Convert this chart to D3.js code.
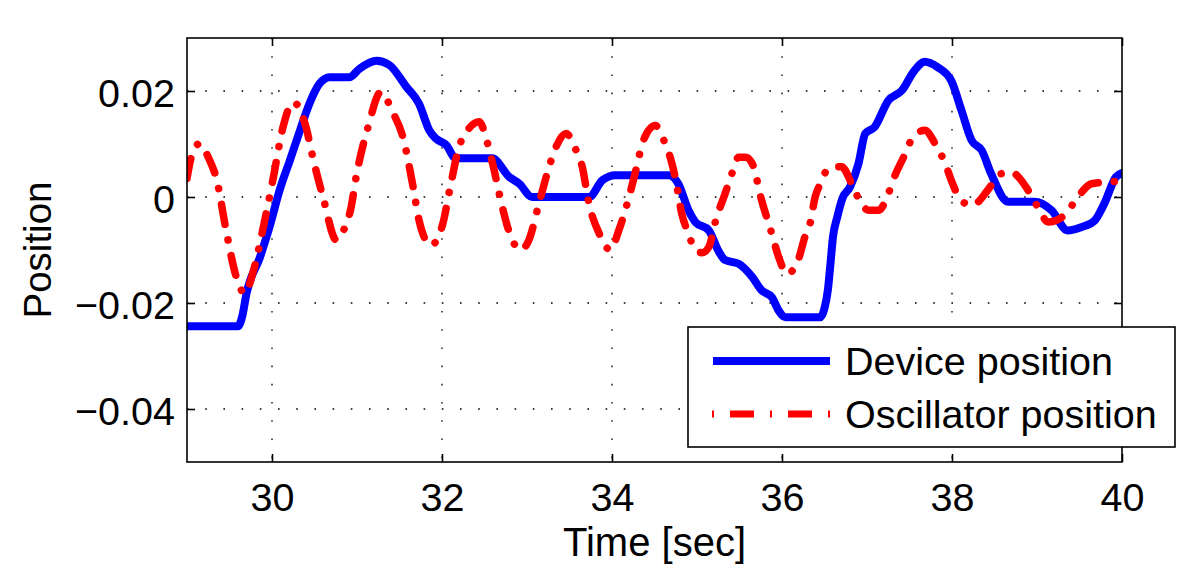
<!DOCTYPE html>
<html>
<head>
<meta charset="utf-8">
<script src="https://cdn.jsdelivr.net/npm/d3@7"></script>
<style>
  html, body { margin: 0; padding: 0; background: #fff; }
  svg { display: block; }
  text { font-family: "Liberation Sans", Arial, Helvetica, sans-serif; fill: #000; }
</style>
</head>
<body>
<svg id="chart" width="1200" height="573"></svg>
<script>
// ---- data ----
const xTicks = [30, 32, 34, 36, 38, 40];
const yTicks = [-0.04, -0.02, 0, 0.02];
const seriesNames = ["Device position", "Oscillator position"];
const xLabel = "Time [sec]";
const yLabel = "Position";

const deviceTime = [29.0, 29.6, 29.65, 29.70, 29.86, 29.97, 30.09, 30.21, 30.33, 30.44, 30.56, 30.68, 30.91, 31.03, 31.23, 31.38, 31.58, 31.73, 31.85, 31.93, 32.05, 32.16, 32.59, 32.79, 32.91, 33.06, 33.73, 33.89, 34.04, 34.67, 34.78, 34.90, 34.98, 35.14, 35.25, 35.33, 35.49, 35.65, 35.76, 35.88, 35.96, 36.04, 36.45, 36.50, 36.54, 36.57, 36.60, 36.65, 36.71, 36.80, 36.90, 36.98, 37.09, 37.25, 37.41, 37.56, 37.68, 37.83, 37.99, 38.11, 38.23, 38.35, 38.46, 38.66, 38.97, 39.17, 39.36, 39.52, 39.68, 39.79, 39.93, 40.0];
const deviceValue = [-0.0244, -0.0244, -0.0225, -0.0182, -0.0113, -0.0057, 0.0013, 0.0069, 0.0126, 0.0176, 0.0214, 0.0226, 0.0226, 0.0242, 0.0257, 0.0249, 0.0208, 0.0176, 0.0126, 0.0110, 0.0098, 0.0073, 0.0073, 0.0038, 0.0025, 0.0, 0.0, 0.0032, 0.0041, 0.0041, 0.0025, -0.0025, -0.0047, -0.0063, -0.0101, -0.0119, -0.0126, -0.0151, -0.0176, -0.0189, -0.0214, -0.0227, -0.0227, -0.0210, -0.0175, -0.0126, -0.0075, -0.0038, -0.0003, 0.0019, 0.0063, 0.0120, 0.0132, 0.0182, 0.0201, 0.0239, 0.0255, 0.0245, 0.0220, 0.0164, 0.0107, 0.0088, 0.0044, -0.0009, -0.0009, -0.0025, -0.0063, -0.0057, -0.0044, -0.0013, 0.0038, 0.0045];

const oscTime = [29.0, 29.05, 29.15, 29.25, 29.35, 29.46, 29.58, 29.68, 29.78, 29.89, 30.01, 30.13, 30.25, 30.40, 30.48, 30.60, 30.76, 30.85, 30.93, 30.99, 31.13, 31.28, 31.42, 31.54, 31.66, 31.73, 31.87, 32.01, 32.09, 32.20, 32.32, 32.44, 32.52, 32.60, 32.71, 32.79, 32.93, 33.02, 33.14, 33.26, 33.34, 33.46, 33.57, 33.65, 33.73, 33.85, 33.98, 34.08, 34.20, 34.28, 34.37, 34.51, 34.61, 34.69, 34.75, 34.82, 34.90, 34.98, 35.06, 35.14, 35.22, 35.33, 35.41, 35.49, 35.57, 35.65, 35.76, 35.88, 35.96, 36.06, 36.19, 36.27, 36.33, 36.39, 36.45, 36.55, 36.70, 36.82, 36.92, 37.02, 37.14, 37.25, 37.33, 37.43, 37.52, 37.68, 37.80, 37.92, 38.00, 38.09, 38.23, 38.31, 38.42, 38.58, 38.70, 38.78, 38.87, 39.01, 39.13, 39.32, 39.48, 39.64, 39.81, 40.0];
const oscValue = [0.0035, 0.0075, 0.0101, 0.0075, 0.0032, -0.0063, -0.0151, -0.0182, -0.0140, -0.0063, 0.0032, 0.0132, 0.0179, 0.0132, 0.0075, 0.0, -0.0082, -0.0060, -0.0020, 0.0038, 0.0132, 0.0198, 0.0160, 0.0113, 0.0019, -0.0044, -0.0091, -0.0050, 0.0013, 0.0094, 0.0130, 0.0142, 0.0110, 0.0060, -0.0019, -0.0066, -0.0100, -0.0082, -0.0013, 0.0057, 0.0094, 0.0120, 0.0091, 0.0057, -0.0013, -0.0069, -0.0100, -0.0063, 0.0, 0.0050, 0.0107, 0.0135, 0.0107, 0.0072, 0.0032, -0.0031, -0.0069, -0.0100, -0.0105, -0.0094, -0.0044, 0.0006, 0.0044, 0.0075, 0.0075, 0.0063, -0.0006, -0.0069, -0.0113, -0.0145, -0.0119, -0.0075, -0.0050, 0.0, 0.0025, 0.0054, 0.0057, 0.0025, -0.0009, -0.0025, -0.0025, 0.0006, 0.0041, 0.0075, 0.0107, 0.0126, 0.0101, 0.0063, 0.0028, -0.0003, -0.0016, -0.0009, 0.0013, 0.0044, 0.0047, 0.0038, 0.0019, -0.0019, -0.0047, -0.0035, 0.0, 0.0025, 0.0028, 0.0030];

// ---- layout ----
const svg = d3.select("#chart");
const L = 187, R = 1122, T = 38, B = 462;
const x = d3.scaleLinear().domain([29, 40]).range([L, R]);
const y = d3.scaleLinear().domain([-0.05, 0.03]).range([B, T]);
const FS = 39.5;

svg.append("rect").attr("width", 1200).attr("height", 573).attr("fill", "#fff");

// grid (dotted)
const grid = svg.append("g").attr("stroke", "#000").attr("stroke-width", 1.3)
  .attr("stroke-dasharray", "1.6,16.6");
grid.selectAll(".gx").data(xTicks.filter(d => d < 40)).enter().append("line")
  .attr("x1", d => x(d)).attr("x2", d => x(d)).attr("y1", T).attr("y2", B);
grid.selectAll(".gy").data(yTicks).enter().append("line")
  .attr("y1", d => y(d)).attr("y2", d => y(d)).attr("x1", L).attr("x2", R);

// clip
svg.append("clipPath").attr("id", "clip").append("rect")
  .attr("x", L).attr("y", T).attr("width", R - L).attr("height", B - T);

const line = d3.line().x(d => x(d[0])).y(d => y(d[1])).curve(d3.curveMonotoneX);
const device = deviceTime.map((t, i) => [t, deviceValue[i]]);
const osc = oscTime.map((t, i) => [t, oscValue[i]]);

const plot = svg.append("g").attr("clip-path", "url(#clip)");
plot.append("path").attr("d", line(device)).attr("fill", "none")
  .attr("stroke", "#0000ff").attr("stroke-width", 8)
  .attr("stroke-linejoin", "round").attr("stroke-linecap", "round");
plot.append("path").attr("d", line(osc)).attr("fill", "none")
  .attr("stroke", "#ff0000").attr("stroke-width", 7.5)
  .attr("stroke-linejoin", "round").attr("stroke-linecap", "round")
  .attr("stroke-dasharray", "20,16,0.1,16");

// frame
svg.append("rect").attr("x", L).attr("y", T).attr("width", R - L).attr("height", B - T)
  .attr("fill", "none").attr("stroke", "#000").attr("stroke-width", 1.6);

// axes (ticks inward)
const fmtY = d => d === 0 ? "0" : d3.format(".2f")(d);
const xAxis = d3.axisBottom(x).tickValues(xTicks).tickSizeInner(-8).tickSizeOuter(0).tickPadding(21).tickFormat(d3.format("d"));
const gx = svg.append("g").attr("transform", `translate(0,${B})`).call(xAxis);
gx.select(".domain").remove();
gx.selectAll("line").attr("stroke", "#000").attr("stroke-width", 1.6);
gx.selectAll("text").attr("font-size", FS).attr("font-family", "Liberation Sans, Arial, sans-serif").attr("fill", "#000");

const xTop = d3.axisTop(x).tickValues(xTicks).tickSizeInner(-8).tickSizeOuter(0).tickFormat("");
const gxt = svg.append("g").attr("transform", `translate(0,${T})`).call(xTop);
gxt.select(".domain").remove();
gxt.selectAll("line").attr("stroke", "#000").attr("stroke-width", 1.6);

const yAxis = d3.axisLeft(y).tickValues(yTicks).tickSizeInner(-8).tickSizeOuter(0).tickPadding(12).tickFormat(fmtY);
const gy = svg.append("g").attr("transform", `translate(${L},0)`).call(yAxis);
gy.select(".domain").remove();
gy.selectAll("line").attr("stroke", "#000").attr("stroke-width", 1.6);
gy.selectAll("text").attr("font-size", FS).attr("dy", "0.38em").attr("font-family", "Liberation Sans, Arial, sans-serif").attr("fill", "#000");

const yRight = d3.axisRight(y).tickValues(yTicks).tickSizeInner(-8).tickSizeOuter(0).tickFormat("");
const gyr = svg.append("g").attr("transform", `translate(${R},0)`).call(yRight);
gyr.select(".domain").remove();
gyr.selectAll("line").attr("stroke", "#000").attr("stroke-width", 1.6);

// axis labels
svg.append("text").attr("x", (L + R) / 2).attr("y", 556).attr("text-anchor", "middle")
  .attr("font-size", FS + 0.5).text(xLabel);
svg.append("text").attr("transform", `translate(51,${(T + B) / 2}) rotate(-90)`)
  .attr("text-anchor", "middle").attr("font-size", FS - 1).text(yLabel);

// legend
const lg = svg.append("g");
lg.append("rect").attr("x", 688).attr("y", 327).attr("width", 487).attr("height", 120)
  .attr("fill", "#fff").attr("stroke", "#000").attr("stroke-width", 1.6);
lg.append("line").attr("x1", 713).attr("x2", 830).attr("y1", 361).attr("y2", 361)
  .attr("stroke", "#0000ff").attr("stroke-width", 8);
lg.append("line").attr("x1", 712).attr("x2", 830).attr("y1", 414).attr("y2", 414)
  .attr("stroke", "#ff0000").attr("stroke-width", 7).attr("stroke-dasharray", "2,16,24,16");
lg.append("text").attr("x", 845).attr("y", 375).attr("font-size", FS).text(seriesNames[0]);
lg.append("text").attr("x", 845).attr("y", 428).attr("font-size", FS).text(seriesNames[1]);
</script>
</body>
</html>
